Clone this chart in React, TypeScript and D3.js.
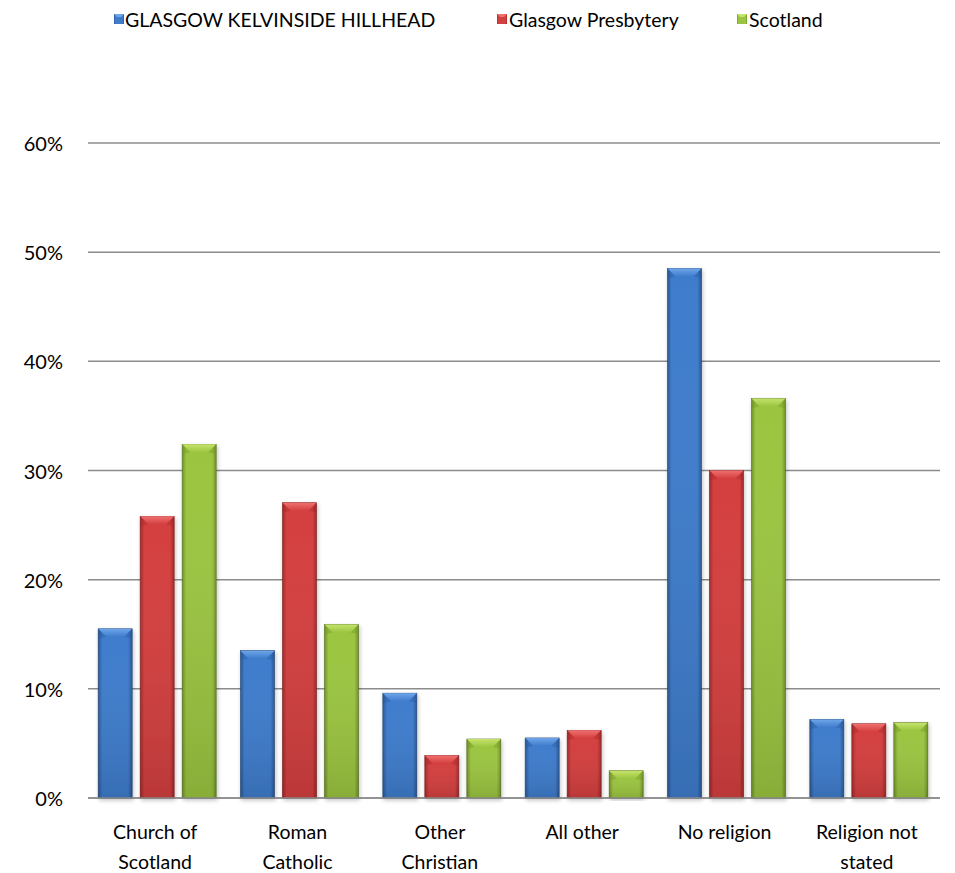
import React from "react";
import * as d3 from "d3";

const categories = [
  ["Church of", "Scotland"],
  ["Roman", "Catholic"],
  ["Other", "Christian"],
  ["All other"],
  ["No religion"],
  ["Religion not", "stated"],
];
const seriesNames = ["GLASGOW KELVINSIDE HILLHEAD", "Glasgow Presbytery", "Scotland"];
const kelvinside = [15.5, 13.5, 9.6, 5.5, 48.5, 7.2];
const presbytery = [25.8, 27.05, 3.9, 6.2, 30.0, 6.8];
const scotland = [32.4, 15.9, 5.4, 2.5, 36.6, 6.9];
const yTicks = [0, 10, 20, 30, 40, 50, 60];

const palette = [
  { main: "#3e7ccc", light: "#6fa6ea", dark: "#285694", edge: "#1f4272" },
  { main: "#d43f3f", light: "#f07070", dark: "#a02828", edge: "#7a1c1c" },
  { main: "#9bc540", light: "#c6e36c", dark: "#6f9228", edge: "#4f6a1a" },
];

const W = 955;
const H = 873;
const left = 86;
const right = 940;
const top = 143;
const bottom = 798;
const FONT = "Lato, 'Open Sans', sans-serif";

export default function App() {
  const series = [kelvinside, presbytery, scotland];
  const x0 = d3
    .scaleBand<number>()
    .domain(d3.range(categories.length))
    .range([left, right])
    .paddingInner(0)
    .paddingOuter(0);
  const groupW = 118;
  const x1 = d3
    .scaleBand<number>()
    .domain([0, 1, 2])
    .range([0, groupW])
    .paddingInner(8 / 42)
    .paddingOuter(0);
  const y = d3.scaleLinear().domain([0, 60]).range([bottom, top]);
  const bw = x1.bandwidth();

  const legendItems = [
    { sx: 114, tx: 125 },
    { sx: 497, tx: 509 },
    { sx: 737, tx: 749 },
  ];

  return (
    <svg
      width={W}
      height={H}
      style={{ position: "absolute", left: 0, top: 0, background: "#fff" }}
    >
      <defs>
        {palette.map((p, i) => (
          <linearGradient key={i} id={`g${i}`} x1="0" x2="1" y1="0" y2="0">
            <stop offset="0" stopColor={p.dark} />
            <stop offset="0.12" stopColor={p.main} />
            <stop offset="0.5" stopColor={p.main} />
            <stop offset="0.88" stopColor={p.main} />
            <stop offset="1" stopColor={p.dark} />
          </linearGradient>
        ))}
        {palette.map((p, i) => (
          <linearGradient key={i} id={`v${i}`} x1="0" x2="0" y1="0" y2="1">
            <stop offset="0" stopColor="#fff" stopOpacity="0" />
            <stop offset="1" stopColor="#000" stopOpacity="0.12" />
          </linearGradient>
        ))}
        {palette.map((p, i) => (
          <linearGradient key={i} id={`t${i}`} x1="0" x2="0" y1="0" y2="1">
            <stop offset="0" stopColor={p.light} />
            <stop offset="1" stopColor={p.main} />
          </linearGradient>
        ))}
        <filter id="sh" x="-20%" y="-5%" width="140%" height="115%">
          <feGaussianBlur in="SourceAlpha" stdDeviation="2" />
          <feOffset dx="1" dy="2" result="b" />
          <feComponentTransfer>
            <feFuncA type="linear" slope="0.25" />
          </feComponentTransfer>
          <feMerge>
            <feMergeNode />
            <feMergeNode in="SourceGraphic" />
          </feMerge>
        </filter>
      </defs>

      {/* legend */}
      {seriesNames.map((name, i) => (
        <g key={name}>
          <rect
            x={legendItems[i].sx}
            y={14}
            width={10}
            height={10}
            fill={`url(#g${i})`}
          />
          <polygon
            points={`${legendItems[i].sx},14 ${legendItems[i].sx + 10},14 ${legendItems[i].sx + 7},17 ${legendItems[i].sx + 3},17`}
            fill={palette[i].light}
          />
          <text
            x={legendItems[i].tx}
            y={19}
            dominantBaseline="central"
            fontFamily={FONT}
            fontSize={19.5}
            fill="#000"
          >
            {name}
          </text>
        </g>
      ))}

      {/* grid */}
      {yTicks.map((t) => (
        <g key={t}>
          <line
            x1={88}
            x2={right}
            y1={y(t)}
            y2={y(t)}
            stroke="#8c8c8c"
            strokeWidth={1.5}
          />
          <text
            x={63}
            y={y(t)}
            textAnchor="end"
            dominantBaseline="central"
            fontFamily={FONT}
            fontSize={20}
            fill="#000"
          >
            {t}%
          </text>
        </g>
      ))}

      {/* bars */}
      {categories.map((c, ci) => {
        const gx = (x0(ci) as number) + (x0.bandwidth() - groupW) / 2;
        return (
          <g key={ci}>
            {series.map((s, si) => {
              const bx = gx + (x1(si) as number);
              const by = y(s[ci]);
              const h = bottom - by;
              const b = Math.min(8, h / 2);
              const p = palette[si];
              return (
                <g key={si} filter="url(#sh)">
                  <rect
                    x={bx}
                    y={by}
                    width={bw}
                    height={h}
                    fill={`url(#g${si})`}
                    stroke={p.edge}
                    strokeWidth={0.6}
                  />
                  <rect x={bx} y={by} width={bw} height={h} fill={`url(#v${si})`} />
                  <polygon
                    points={`${bx},${by} ${bx + bw},${by} ${bx + bw - b},${by + b} ${bx + b},${by + b}`}
                    fill={`url(#t${si})`}
                  />
                  <polygon
                    points={`${bx},${by} ${bx + b},${by + b} ${bx},${by + b + 2}`}
                    fill={p.dark}
                    opacity={0.35}
                  />
                  <polygon
                    points={`${bx + bw},${by} ${bx + bw - b},${by + b} ${bx + bw},${by + b + 2}`}
                    fill={p.dark}
                    opacity={0.35}
                  />
                </g>
              );
            })}
          </g>
        );
      })}

      <line x1={88} x2={right} y1={bottom} y2={bottom} stroke="#8c8c8c" strokeWidth={1.5} />

      {/* x labels */}
      {categories.map((c, ci) => {
        const cx = (x0(ci) as number) + x0.bandwidth() / 2 - 2;
        return (
          <text
            key={ci}
            x={cx}
            textAnchor="middle"
            fontFamily={FONT}
            fontSize={19.5}
            fill="#000"
          >
            {c.map((line, li) => (
              <tspan key={li} x={cx} y={839 + li * 30}>
                {line}
              </tspan>
            ))}
          </text>
        );
      })}
    </svg>
  );
}
